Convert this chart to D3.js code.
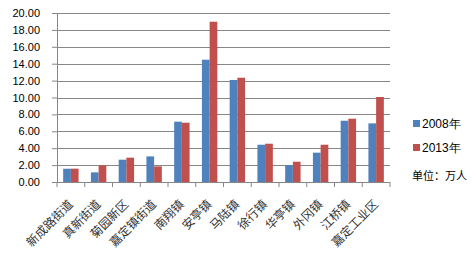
<!DOCTYPE html>
<html><head><meta charset="utf-8">
<script src="https://cdn.jsdelivr.net/npm/d3@7/dist/d3.min.js"></script>
<style>body{margin:0;background:#fff}svg{display:block}</style>
</head><body>
<svg id="c" width="471" height="272"></svg>
<script>
const categories = ["新成路街道","真新街道","菊园新区","嘉定镇街道","南翔镇","安亭镇","马陆镇","徐行镇","华亭镇","外冈镇","江桥镇","嘉定工业区"];
const seriesNames = ["2008年","2013年"];
const values2008 = [1.57,1.14,2.64,3.03,7.14,14.47,12.07,4.41,2.01,3.47,7.25,6.94];
const values2013 = [1.58,1.97,2.88,1.85,7.02,18.97,12.34,4.53,2.40,4.41,7.49,10.06];
const yTicks = [0,2,4,6,8,10,12,14,16,18,20];
const unitLabel = "单位：万人";
const colors = ["#4F81BD","#C0504D"];

(function(){
const svg = d3.select("#c");
const mLeft = 57, mRight = 390, mTop = 13, mBottom = 182;
const y = d3.scaleLinear().domain([0,20]).range([mBottom, mTop]);
const x0 = d3.scaleBand().domain(categories).range([mLeft, mRight]).padding(0);
const x1 = d3.scaleBand().domain(seriesNames).range([0, x0.bandwidth()]).paddingInner(0).paddingOuter(0.8);
const grid = "#878787";

const yAxis = d3.axisLeft(y).tickValues(yTicks).tickFormat(d3.format(".2f")).tickSize(5).tickPadding(12);
const gy = svg.append("g").attr("transform", `translate(${mLeft},0)`).call(yAxis);
gy.select(".domain").attr("stroke", grid);
gy.selectAll(".tick line").attr("stroke", grid);
gy.selectAll(".tick text").attr("font-family","Liberation Sans, Arial, sans-serif").attr("font-size","11px").attr("fill","#000");
svg.append("g").selectAll("line").data(yTicks.filter(d=>d>0)).join("line")
  .attr("x1", mLeft).attr("x2", mRight).attr("y1", d=>Math.round(y(d))+0.5).attr("y2", d=>Math.round(y(d))+0.5)
  .attr("stroke", grid).attr("stroke-width",1);

const data = categories.map((c,i)=>({c, v:[values2008[i], values2013[i]]}));
const g = svg.append("g");
data.forEach(d=>{
  seriesNames.forEach((s,j)=>{
    g.append("rect").attr("x", x0(d.c)+x1(s)).attr("width", x1.bandwidth())
      .attr("y", y(d.v[j])).attr("height", mBottom - y(d.v[j])).attr("fill", colors[j]);
  });
});

const xAxis = d3.axisBottom(x0).tickSize(0).tickFormat("");
const gx = svg.append("g").attr("transform", `translate(0,${mBottom})`).call(xAxis);
gx.select(".domain").remove();
svg.append("line").attr("x1", mLeft-5).attr("x2", mRight).attr("y1", mBottom+0.5).attr("y2", mBottom+0.5).attr("stroke", grid);
const tickXs = categories.map(c=>x0(c)).concat([mRight]);
svg.append("g").selectAll("line").data(tickXs).join("line")
  .attr("x1", d=>d).attr("x2", d=>d).attr("y1", mBottom).attr("y2", mBottom+5).attr("stroke", grid);

svg.append("g").selectAll("text").data(categories).join("text")
  .attr("transform", d=>`translate(${x0(d)+x0.bandwidth()/2},${mBottom+20}) rotate(-45)`)
  .attr("text-anchor","end").attr("dy","0.35em")
  .attr("font-family","Noto Sans CJK SC, sans-serif").attr("font-size","12px").attr("fill","#333")
  .text(d=>d);

const lg = svg.append("g");
seriesNames.forEach((s,j)=>{
  const cy = 124 + j*24;
  lg.append("rect").attr("x",413).attr("y",cy-4).attr("width",7).attr("height",7).attr("fill",colors[j]);
  lg.append("text").attr("x",422).attr("y",cy).attr("dy","0.35em")
    .attr("font-family","Liberation Sans, Arial, sans-serif").attr("font-size","12px").attr("fill","#000").text(s);
});
lg.append("text").attr("x",412).attr("y",176).attr("dy","0.35em")
  .attr("font-family","Noto Sans CJK SC, sans-serif").attr("font-size","11px").attr("fill","#000").text(unitLabel);
})();
</script>
</body></html>
